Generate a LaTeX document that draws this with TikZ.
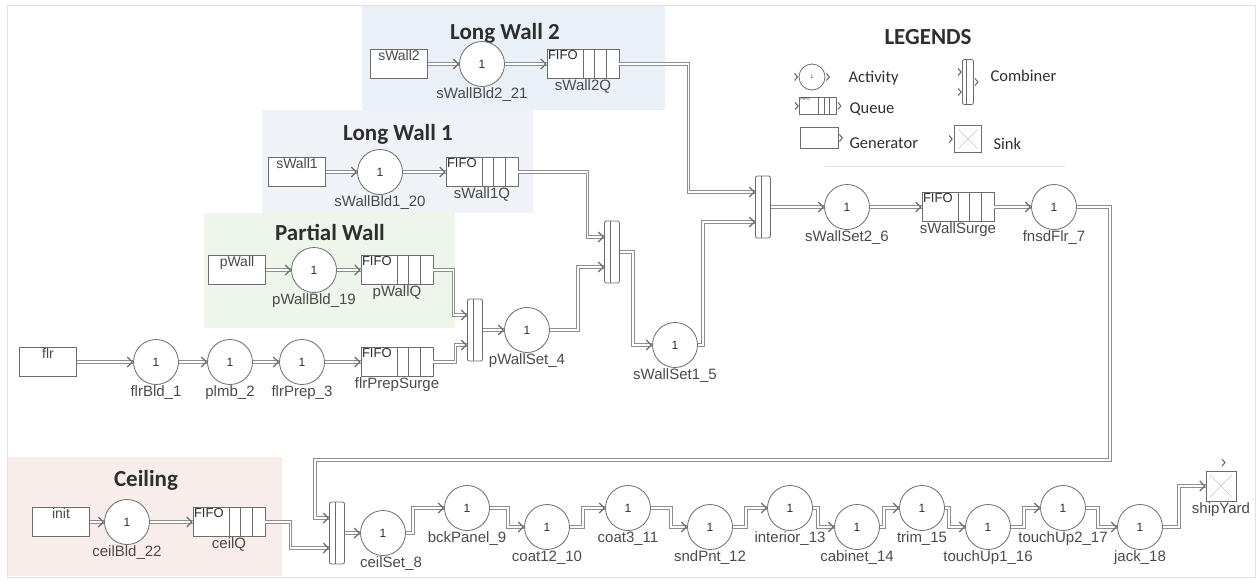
\documentclass[tikz,border=0pt]{standalone}
\usepackage{fontspec}
\setmainfont{Liberation Sans}
\newfontfamily\calibri{Carlito}
\usetikzlibrary{positioning,arrows.meta,calc,decorations.markings}
\definecolor{wline}{HTML}{8E8E8E}
\definecolor{bline}{HTML}{6C6C6C}
\definecolor{ltext}{HTML}{4A4A4A}
\definecolor{ttext}{HTML}{2E2E2E}
\definecolor{frame}{HTML}{E2E2E2}
\definecolor{lwtwobg}{HTML}{EAF0F8}
\definecolor{lwonebg}{HTML}{EFF2F6}
\definecolor{pwbg}{HTML}{EEF5EA}
\definecolor{ceilbg}{HTML}{F8EDEB}
\tikzset{
  act/.style    = {circle, draw=bline, fill=white, line width=0.8pt, minimum size=45pt,
                   inner sep=0pt, font=\fontsize{12}{12}\selectfont, text=ttext},
  gen/.style    = {draw=bline, fill=white, line width=0.8pt, minimum width=57pt,
                   text height=9pt, text depth=16pt, inner ysep=2pt,
                   font=\fontsize{14}{14}\selectfont, text=ltext},
  queue/.style  = {draw=bline, fill=white, line width=0.8pt, text width=70pt, align=left,
                   inner xsep=1pt, inner ysep=1pt, text height=9pt, text depth=18pt,
                   font=\fontsize{13}{13}\selectfont, text=ttext, label distance=8pt,
                   path picture={
                     \foreach \f in {0.5,0.66,0.82}
                       \draw[bline, line width=0.8pt]
                         ($(path picture bounding box.north west)!\f!(path picture bounding box.north east)$) --
                         ($(path picture bounding box.south west)!\f!(path picture bounding box.south east)$);
                   }},
  comb/.style   = {draw=bline, fill=white, line width=0.8pt, rounded corners=2pt,
                   minimum width=15pt, minimum height=62pt, inner sep=0pt,
                   path picture={\draw[bline, line width=0.6pt]
                     ([xshift=-2pt]path picture bounding box.north) --
                     ([xshift=-2pt]path picture bounding box.south);}},
  sink/.style   = {draw=bline, fill=white, line width=0.8pt, minimum size=30pt, inner sep=0pt,
                   path picture={\draw[gray!45, line width=0.6pt]
                     ([shift={(4pt,4pt)}]path picture bounding box.south west) --
                     ([shift={(-4pt,-4pt)}]path picture bounding box.north east)
                     ([shift={(4pt,-4pt)}]path picture bounding box.north west) --
                     ([shift={(-4pt,4pt)}]path picture bounding box.south east);}},
  lbl/.style    = {font=\fontsize{15}{15}\selectfont, text=ltext, inner sep=1pt},
  wire/.style   = {draw=white, line width=1.2pt,
                   preaction={draw=wline, line width=3.2pt},
                   postaction={decorate, decoration={markings, mark=at position 1 with
                     {\arrow[bline, line width=1.2pt]{Straight Barb[length=5pt,width=10pt]}}}}},
  title/.style  = {font=\calibri\bfseries\fontsize{23}{23}\selectfont, text=ttext},
  legtxt/.style = {font=\calibri\fontsize{16.5}{16.5}\selectfont, text=ttext, anchor=west},
  port/.pic     = {\draw[bline, line width=1.1pt] (-3,-3.5) -- (0,0) -- (-3,3.5);},
}

\begin{document}
\begin{tikzpicture}[x=1pt, y=-1pt]
\useasboundingbox (0,0) rectangle (1257,579);
\draw[frame, line width=1pt] (7,5) rectangle (1255,577);

% group backgrounds
\fill[lwtwobg] (362,6) rectangle (665,110);
\fill[lwonebg] (262,110) rectangle (533,213);
\fill[pwbg]    (204,213) rectangle (455,328);
\fill[ceilbg]  (8,457) rectangle (282,576);

% long wall 2
\node[title] (tlw2) at (505,33) {Long Wall 2};
\node[gen] (sw2) at (399,64) {sWall2};
\node[act, label={[lbl]below:sWallBld2\_21}] (sb2) at (482,64) {1};
\node[queue, label={[lbl]below:sWall2Q}] (sw2q) at (583,64) {FIFO};
\draw[wire] (sw2.east) -- (sb2.west);
\draw[wire] (sb2.east) -- (sw2q.west);

% long wall 1
\node[title] (tlw1) at (398,134) {Long Wall 1};
\node[gen] (sw1) at (297,172) {sWall1};
\node[act, label={[lbl]below:sWallBld1\_20}] (sb1) at (380,172) {1};
\node[queue, label={[lbl]below:sWall1Q}] (sw1q) at (482,172) {FIFO};
\draw[wire] (sw1.east) -- (sb1.west);
\draw[wire] (sb1.east) -- (sw1q.west);

% partial wall
\node[title] (tpw) at (330,232) {Partial Wall};
\node[gen] (pw) at (237,270) {pWall};
\node[act, label={[lbl]below:pWallBld\_19}] (pb) at (314,270) {1};
\node[queue, label={[lbl]below:pWallQ}] (pwq) at (397,270) {FIFO};
\draw[wire] (pw.east) -- (pb.west);
\draw[wire] (pb.east) -- (pwq.west);

% floor line
\node[gen] (flr) at (48,362) {flr};
\node[act, label={[lbl]below:flrBld\_1}]  (fb1) at (156,362) {1};
\node[act, label={[lbl]below:plmb\_2}]    (pl2) at (230,362) {1};
\node[act, label={[lbl]below:flrPrep\_3}] (fp3) at (302,362) {1};
\node[queue, label={[lbl]below:flrPrepSurge}] (fps) at (397,362) {FIFO};
\draw[wire] (flr.east) -- (fb1.west);
\draw[wire] (fb1.east) -- (pl2.west);
\draw[wire] (pl2.east) -- (fp3.west);
\draw[wire] (fp3.east) -- (fps.west);

% wall setting
\node[comb] (cb1) at (475,330) {};
\node[comb] (cb2) at (612,252) {};
\node[comb] (cb3) at (763,207) {};
\node[act, label={[lbl]below:pWallSet\_4}]  (ps4) at (527,330) {1};
\node[act, label={[lbl]below:sWallSet1\_5}] (ss5) at (675,345) {1};
\node[act, label={[lbl]below:sWallSet2\_6}] (ss6) at (847,207) {1};
\node[queue, label={[lbl]below:sWallSurge}] (sws) at (958,207) {FIFO};
\node[act, label={[lbl]below:fnsdFlr\_7}]   (ff7) at (1054,207) {1};
\draw[wire] (pwq.east) -- ++(20,0) |- ([yshift=15pt]cb1.west);
\draw[wire] (fps.east) -- ++(22,0) |- ([yshift=-15pt]cb1.west);
\draw[wire] (cb1.east) -- (ps4.west);
\draw[wire] (ps4.east) -- ++(28,0) |- ([yshift=-15pt]cb2.west);
\draw[wire] (sw1q.east) -- ++(69,0) |- ([yshift=15pt]cb2.west);
\draw[wire] (cb2.east) -- ++(13,0) |- (ss5.west);
\draw[wire] (ss5.east) -- ++(5,0) |- ([yshift=-15pt]cb3.west);
\draw[wire] (sw2q.east) -- ++(69,0) |- ([yshift=15pt]cb3.west);
\draw[wire] (cb3.east) -- (ss6.west);
\draw[wire] (ss6.east) -- (sws.west);
\draw[wire] (sws.east) -- (ff7.west);

% ceiling
\node[title] (tce) at (146,480) {Ceiling};
\node[gen] (ini) at (61,522) {init};
\node[act, label={[lbl]below:ceilBld\_22}] (cb22) at (127,522) {1};
\node[queue, label={[lbl]below:ceilQ}] (ceq) at (229,522) {FIFO};
\draw[wire] (ini.east) -- (cb22.west);
\draw[wire] (cb22.east) -- (ceq.west);
\node[comb] (cb4) at (337,533) {};
\draw[wire] (ceq.east) -- ++(25,0) |- ([yshift=-15pt]cb4.west);
\coordinate (wr) at (1110,460);
\coordinate (wl) at (315,460);
\draw[wire] (ff7.east) -| (wr) -- (wl) |- ([yshift=15pt]cb4.west);

% finishing line
\node[act, label={[lbl,xshift=8pt]below:ceilSet\_8}] (c8) at (383,533) {1};
\draw[wire] (cb4.east) -- (c8.west);
\foreach \n/\x/\y/\t in {c9/467/508/bckPanel\_9, c10/547/527/coat12\_10,
    c11/628/508/coat3\_11, c12/710/527/sndPnt\_12, c13/790/508/interior\_13,
    c14/857/527/cabinet\_14, c15/922/508/trim\_15, c16/988/527/touchUp1\_16,
    c17/1063/508/touchUp2\_17, c18/1140/527/jack\_18}
  \node[act, label={[lbl]below:\t}] (\n) at (\x,\y) {1};
\node[sink, label={[lbl]below:shipYard}] (shy) at (1221,486) {};
\foreach \a/\b/\d in {c8/c9/7, c9/c10/18, c10/c11/13, c11/c12/20, c12/c13/13,
    c13/c14/5, c14/c15/4, c15/c16/4, c16/c17/13, c17/c18/12, c18/shy/16}
  \draw[wire] (\a.east) -- ++(\d,0) |- (\b.west);
\pic at ($(shy.north)+(4,-8)$) {port};

% legends
\node[title] (tleg) at (928,37) {LEGENDS};
\node[act, minimum size=26pt, font=\fontsize{5}{5}\selectfont] (lact) at (812,77) {1};
\pic at ($(lact.west)+(-1,0)$) {port};
\pic at ($(lact.east)+(4,0)$) {port};
\node[legtxt] at (845,78) {Activity};
\node[queue, text width=35pt, text height=2pt, text depth=13pt,
      font=\fontsize{4}{4}\selectfont] (lque) at (818,106) {FIFO};
\pic at ($(lque.west)+(-1,0)$) {port};
\pic at ($(lque.east)+(4,0)$) {port};
\node[legtxt] at (846,109) {Queue};
\node[gen, minimum width=38pt, text height=0pt, text depth=17pt] (lgen) at (819,138) {};
\pic at ($(lgen.east)+(4,0)$) {port};
\node[legtxt] at (846,143) {Generator};
\node[comb, minimum width=11pt, minimum height=45pt] (lcmb) at (968,82) {};
\pic at ($(lcmb.west)+(-1,-10)$) {port};
\pic at ($(lcmb.west)+(-1,10)$) {port};
\pic at ($(lcmb.east)+(4,0)$) {port};
\node[legtxt] at (987,76) {Combiner};
\node[sink, minimum size=27pt] (lsnk) at (968,139) {};
\pic at ($(lsnk.west)+(-2,0)$) {port};
\node[legtxt] at (990,144) {Sink};
\draw[frame, line width=1pt] (825,166) -- (1065,166);

\end{tikzpicture}
\end{document}
